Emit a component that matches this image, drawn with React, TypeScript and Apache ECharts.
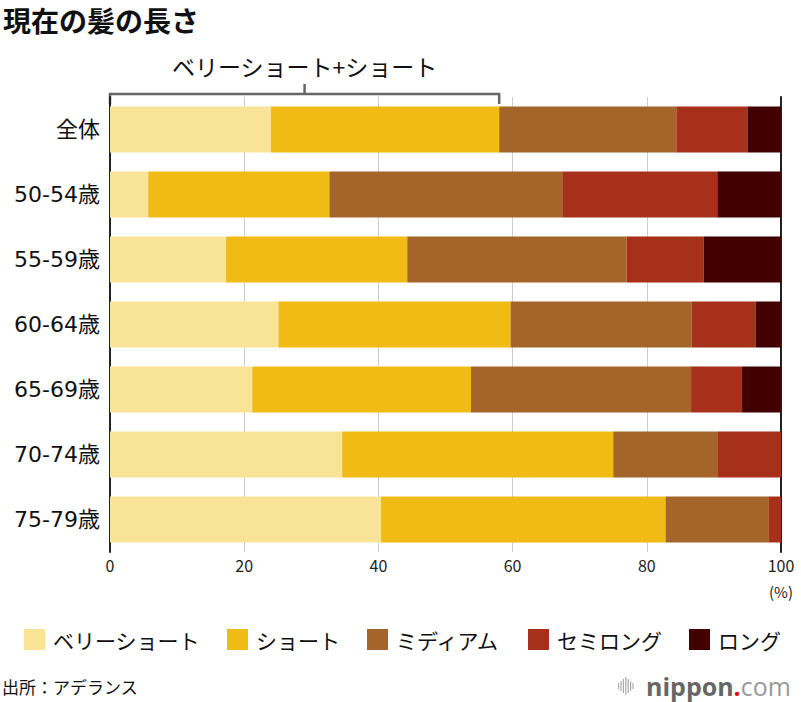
import React, { useEffect, useRef } from "react";
import * as echarts from "echarts";

const categories = ["全体", "50-54歳", "55-59歳", "60-64歳", "65-69歳", "70-74歳", "75-79歳"];
const seriesNames = ["ベリーショート", "ショート", "ミディアム", "セミロング", "ロング"];
const veryShort = [24.0, 5.7, 17.3, 25.1, 21.2, 34.6, 40.4];
const short = [34.0, 27.0, 27.0, 34.6, 32.6, 40.4, 42.4];
const medium = [26.4, 34.7, 32.7, 27.0, 32.8, 15.5, 15.4];
const semiLong = [10.6, 23.1, 11.5, 9.5, 7.6, 9.5, 1.8];
const long = [5.0, 9.5, 11.5, 3.8, 5.8, 0, 0];
const xTicks = [0, 20, 40, 60, 80, 100];
const colors = ["#F8E396", "#F0BB15", "#A5642A", "#A63019", "#420000"];

const FONT = "'Noto Sans CJK JP', 'Noto Sans', sans-serif";
const NUMFONT = "'DejaVu Sans', 'Noto Sans CJK JP', sans-serif";

export default function App() {
  const ref = useRef<HTMLDivElement>(null);
  useEffect(() => {
    if (!ref.current) return;
    const chart = echarts.init(ref.current, null, { renderer: "svg" });
    const values = [veryShort, short, medium, semiLong, long];
    const option: any = {
      animation: false,
      backgroundColor: "#ffffff",
      textStyle: { fontFamily: FONT },
      grid: { left: 110, right: 20, top: 97, bottom: 150, containLabel: false },
      xAxis: {
        type: "value",
        min: 0,
        max: 100,
        interval: 20,
        axisLine: { show: false },
        axisTick: { show: false },
        splitLine: { show: true, lineStyle: { color: "#cccccc", width: 1 } },
        axisLabel: {
          margin: 5,
          fontSize: 16,
          color: "#222",
          fontFamily: FONT,
          formatter: (v: number) => (xTicks.includes(v) ? String(v) : ""),
        },
      },
      yAxis: [
        {
          type: "category",
          data: categories,
          inverse: true,
          axisLine: { show: true, lineStyle: { color: "#222", width: 2 } },
          axisTick: { show: false },
          axisLabel: { margin: 10, fontSize: 22, color: "#111", fontFamily: NUMFONT },
        },
        {
          type: "category",
          data: categories,
          inverse: true,
          position: "right",
          axisLine: { show: true, lineStyle: { color: "#222", width: 2 } },
          axisTick: { show: false },
          axisLabel: { show: false },
        },
      ],
      legend: {
        show: true,
        left: 19,
        top: 624,
        itemWidth: 21,
        itemHeight: 21,
        itemGap: 27,
        icon: "rect",
        textStyle: { fontSize: 21, color: "#111", fontFamily: FONT, padding: [0, 0, 0, 3] },
        data: seriesNames,
      },
      series: seriesNames.map((name, i) => ({
        name,
        type: "bar",
        stack: "total",
        barWidth: 46,
        data: values[i],
        itemStyle: { color: colors[i] },
        emphasis: { disabled: true },
      })),
    };
    chart.setOption(option);

    const sumShort = veryShort[0] + short[0];
    const p0 = chart.convertToPixel({ gridIndex: 0 }, [0, 0]) as number[];
    const p1 = chart.convertToPixel({ gridIndex: 0 }, [sumShort, 0]) as number[];
    const x0 = p0[0];
    const x1 = p1[0];
    const xm = (x0 + x1) / 2;
    const pTop = chart.convertToPixel({ gridIndex: 0 }, [100, 0]) as number[];

    const logoBars = [6, 10, 14, 18, 14, 10, 6];
    const logoRects = logoBars.map((h, i) => ({
      type: "rect",
      shape: { x: 618 + i * 2.4, y: 686 - h / 2, width: 1.2, height: h },
      style: { fill: "#aaaaaa" },
    }));

    chart.setOption({
      graphic: [
        {
          type: "text",
          x: 3,
          y: 6,
          style: {
            text: "現在の髪の長さ",
            fontSize: 28,
            fontWeight: "bold",
            fill: "#111",
            verticalAlign: "top",
            fontFamily: FONT,
          },
        },
        {
          type: "polyline",
          shape: { points: [[x0, 104], [x0, 94], [x1, 94], [x1, 104]] },
          style: { stroke: "#666", lineWidth: 2.5, fill: "none" },
        },
        {
          type: "line",
          shape: { x1: xm, y1: 94, x2: xm, y2: 84 },
          style: { stroke: "#666", lineWidth: 2.5 },
        },
        {
          type: "text",
          x: xm,
          y: 66,
          style: {
            text: "ベリーショート+ショート",
            fontSize: 23,
            fill: "#111",
            align: "center",
            verticalAlign: "middle",
            fontFamily: FONT,
          },
        },
        {
          type: "text",
          x: pTop[0],
          y: 591,
          style: { text: "(%)", fontSize: 15, fill: "#222", align: "center", verticalAlign: "middle", fontFamily: FONT },
        },
        {
          type: "text",
          x: 2,
          y: 686,
          style: { text: "出所：アデランス", fontSize: 17, fill: "#111", verticalAlign: "middle", fontFamily: FONT },
        },
        ...logoRects,
        {
          type: "text",
          x: 646,
          y: 686,
          style: {
            text: "{a|nippon}{b|.}{c|com}",
            verticalAlign: "middle",
            rich: {
              a: { fontSize: 25, fontWeight: "bold", fill: "#666", fontFamily: "'Open Sans', sans-serif" },
              b: { fontSize: 25, fontWeight: "bold", fill: "#e60012", fontFamily: "'Open Sans', sans-serif" },
              c: { fontSize: 25, fill: "#999", fontFamily: "'Open Sans', sans-serif" },
            },
          },
        },
      ],
    });

    return () => chart.dispose();
  }, []);

  return (
    <div
      ref={ref}
      style={{ position: "fixed", left: 0, top: 0, width: 801, height: 702, background: "#fff" }}
    />
  );
}
